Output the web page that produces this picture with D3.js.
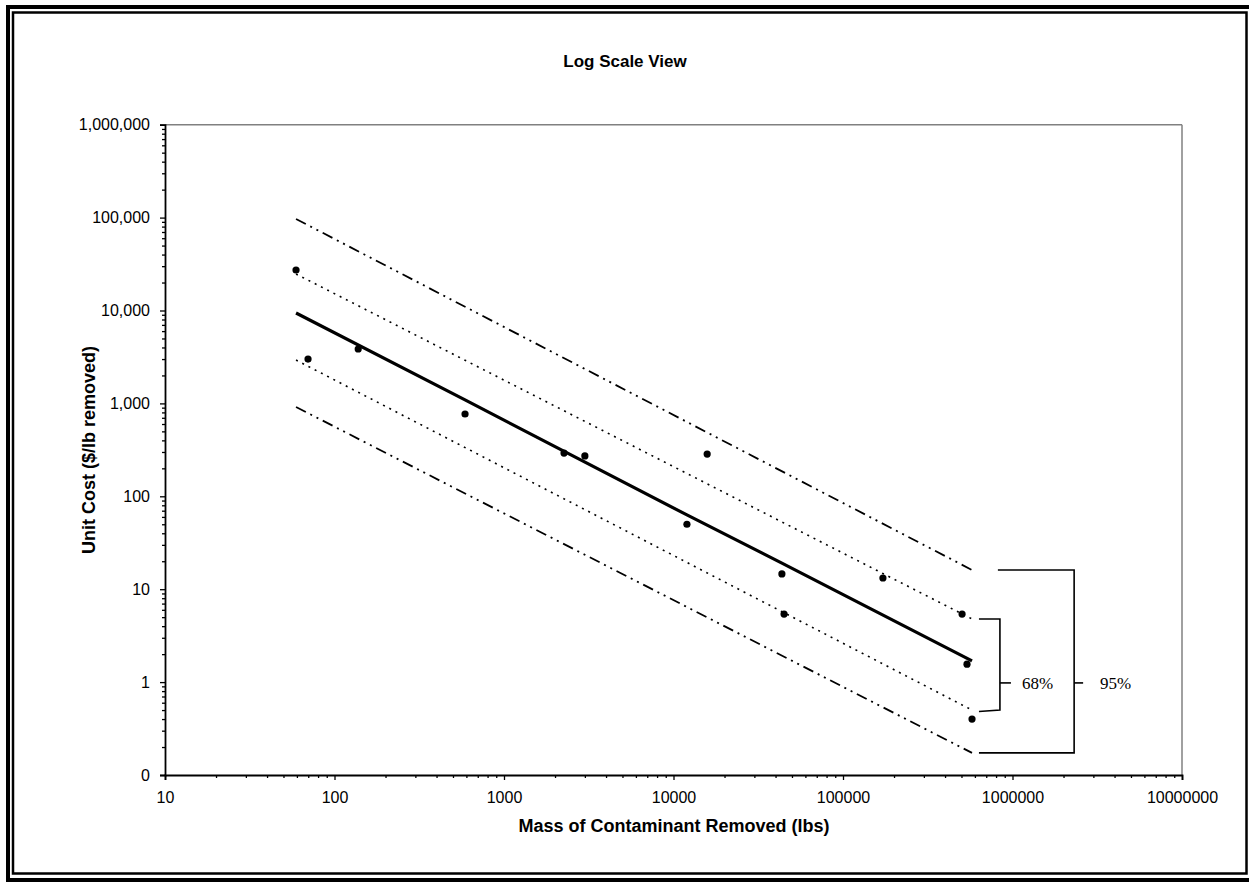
<!DOCTYPE html>
<html>
<head>
<meta charset="utf-8">
<script src="https://cdn.jsdelivr.net/npm/d3@7"></script>
<style>
  body { margin: 0; background: #fff; }
  svg { display: block; font-family: Arial, "Liberation Sans", sans-serif; }
</style>
</head>
<body>
<div id="chart"></div>
<script>
// observed points (lbs removed, $/lb)
const massRemoved = [59.3, 69.8, 138, 589, 2260, 3000, 15800, 12000, 43600, 44900, 172000, 504000, 539000, 577000];
const unitCost    = [27300, 3000, 3850, 769, 292, 272, 285, 50, 14.6, 5.4, 13.2, 5.4, 1.56, 0.40];

// fitted line
const fitX = [59.3, 589, 12000, 43600, 577000];
const fitY = [9400, 1090, 63, 19.1, 1.69];

// confidence bands (start / end)
const bandX   = [59.3, 577000];
const upper68 = [24700, 4.78];
const lower68 = [2930, 0.50];
const upper95 = [96600, 16.1];
const lower95 = [915, 0.173];

const xTicks = [10, 100, 1000, 10000, 100000, 1000000, 10000000];
const xTickLabels = ["10", "100", "1000", "10000", "100000", "1000000", "10000000"];
const yTicks = [0.1, 1, 10, 100, 1000, 10000, 100000, 1000000];
const yTickLabels = ["0", "1", "10", "100", "1,000", "10,000", "100,000", "1,000,000"];

const W = 1249, H = 882;
const plot = {left: 165, right: 1182, top: 124.7, bottom: 775};

const svg = d3.select("#chart").append("svg")
    .attr("width", W)
    .attr("height", H);

// double frame
svg.append("rect")
    .attr("x", 8).attr("y", 7).attr("width", 1244).attr("height", 873)
    .attr("fill", "none").attr("stroke", "#000").attr("stroke-width", 4);
svg.append("rect")
    .attr("x", 13).attr("y", 12.5).attr("width", 1233.5).attr("height", 861)
    .attr("fill", "none").attr("stroke", "#000").attr("stroke-width", 2.5);

let x = d3.scaleLog().domain([10, 1e7]).range([plot.left, plot.right]);
let y = d3.scaleLog().domain([0.1, 1e6]).range([plot.bottom, plot.top]);

// minor ticks 2..9 in every decade
function minorTicks(lo, hi) {
    let out = [];
    for (let d = lo; d < hi; d *= 10) {
        for (let k = 2; k <= 9; k++) out.push(d * k);
    }
    return out;
}

// plot frame: grey top/right
svg.append("line")
    .attr("x1", plot.left).attr("x2", plot.right)
    .attr("y1", plot.top).attr("y2", plot.top)
    .attr("stroke", "#808080").attr("stroke-width", 1.5);
svg.append("line")
    .attr("x1", plot.right).attr("x2", plot.right)
    .attr("y1", plot.top).attr("y2", plot.bottom)
    .attr("stroke", "#808080").attr("stroke-width", 1.5);

// y axis
svg.append("g")
    .attr("transform", "translate(" + plot.left + ",0)")
    .call(d3.axisLeft(y).tickValues(yTicks).tickSize(5).tickPadding(10)
        .tickFormat((d, i) => yTickLabels[i]));
svg.append("g")
    .attr("transform", "translate(" + plot.left + ",0)")
    .call(d3.axisLeft(y).tickValues(minorTicks(0.1, 1e6)).tickSize(3).tickFormat(""))
    .select(".domain").remove();

// x axis
svg.append("g")
    .attr("transform", "translate(0," + plot.bottom + ")")
    .call(d3.axisBottom(x).tickValues(xTicks).tickSize(5).tickPadding(12)
        .tickFormat((d, i) => xTickLabels[i]));
svg.append("g")
    .attr("transform", "translate(0," + plot.bottom + ")")
    .call(d3.axisBottom(x).tickValues(minorTicks(10, 1e7)).tickSize(3).tickFormat(""))
    .select(".domain").remove();

svg.selectAll(".tick text")
    .attr("font-size", 16)
    .attr("font-family", "Arial, 'Liberation Sans', sans-serif")
    .attr("fill", "#000");
svg.selectAll(".tick line").attr("stroke", "#000").attr("stroke-width", 1.3);
svg.selectAll(".domain").attr("stroke", "#000").attr("stroke-width", 1.8);

// lines
let line = d3.line().x(d => x(d[0])).y(d => y(d[1]));

function drawLine(xs, ys, width, dash) {
    svg.append("path")
        .datum(xs.map((v, i) => [v, ys[i]]))
        .attr("d", line)
        .attr("fill", "none")
        .attr("stroke", "#000")
        .attr("stroke-width", width)
        .attr("stroke-dasharray", dash);
}

drawLine(bandX, upper95, 1.8, "11,5,2,5,2,5");
drawLine(bandX, lower95, 1.8, "11,5,2,5,2,5");
drawLine(bandX, upper68, 1.6, "2,5");
drawLine(bandX, lower68, 1.6, "2,5");
drawLine(fitX, fitY, 3.2, null);

// points
svg.selectAll(".pt")
    .data(massRemoved)
    .enter()
    .append("circle")
    .attr("class", "pt")
    .attr("cx", d => x(d))
    .attr("cy", (d, i) => y(unitCost[i]))
    .attr("r", 3.6)
    .attr("fill", "#000");

// brackets 68% / 95%
let bracket = svg.append("g")
    .attr("fill", "none")
    .attr("stroke", "#000")
    .attr("stroke-width", 1.6);

let b68 = {x0: 634000, x1: 843000, tick: 979000, top: upper68[1], bot: lower68[1], mid: 0.98};
let b95 = {x0: 634000, xTop: 820000, x1: 2310000, tick: 2610000, top: upper95[1], bot: lower95[1], mid: 0.98};

bracket.append("path")
    .attr("d", "M" + x(b68.x0) + "," + y(b68.top) + "H" + x(b68.x1) +
        "V" + y(b68.bot) + "L" + x(b68.x0) + "," + (y(b68.bot) + 1.5));
bracket.append("line")
    .attr("x1", x(b68.x1)).attr("x2", x(b68.tick))
    .attr("y1", y(b68.mid)).attr("y2", y(b68.mid));

bracket.append("path")
    .attr("d", "M" + x(b95.xTop) + "," + y(b95.top) + "H" + x(b95.x1) +
        "V" + y(b95.bot) + "H" + x(b95.x0));
bracket.append("line")
    .attr("x1", x(b95.x1)).attr("x2", x(b95.tick))
    .attr("y1", y(b95.mid)).attr("y2", y(b95.mid));

svg.append("text")
    .attr("x", x(1138000)).attr("y", y(b68.mid) + 6)
    .attr("font-family", "'Times New Roman', 'Liberation Serif', serif")
    .attr("font-size", 17)
    .text("68%");
svg.append("text")
    .attr("x", x(3280000)).attr("y", y(b95.mid) + 6)
    .attr("font-family", "'Times New Roman', 'Liberation Serif', serif")
    .attr("font-size", 17)
    .text("95%");

// titles
svg.append("text")
    .attr("x", 625).attr("y", 67)
    .attr("text-anchor", "middle")
    .attr("font-weight", "bold")
    .attr("font-size", 17)
    .text("Log Scale View");

svg.append("text")
    .attr("x", 674).attr("y", 832)
    .attr("text-anchor", "middle")
    .attr("font-weight", "bold")
    .attr("font-size", 18)
    .text("Mass of Contaminant Removed (lbs)");

svg.append("text")
    .attr("transform", "translate(95,450) rotate(-90)")
    .attr("text-anchor", "middle")
    .attr("font-weight", "bold")
    .attr("font-size", 18)
    .text("Unit Cost ($/lb removed)");
</script>
</body>
</html>
